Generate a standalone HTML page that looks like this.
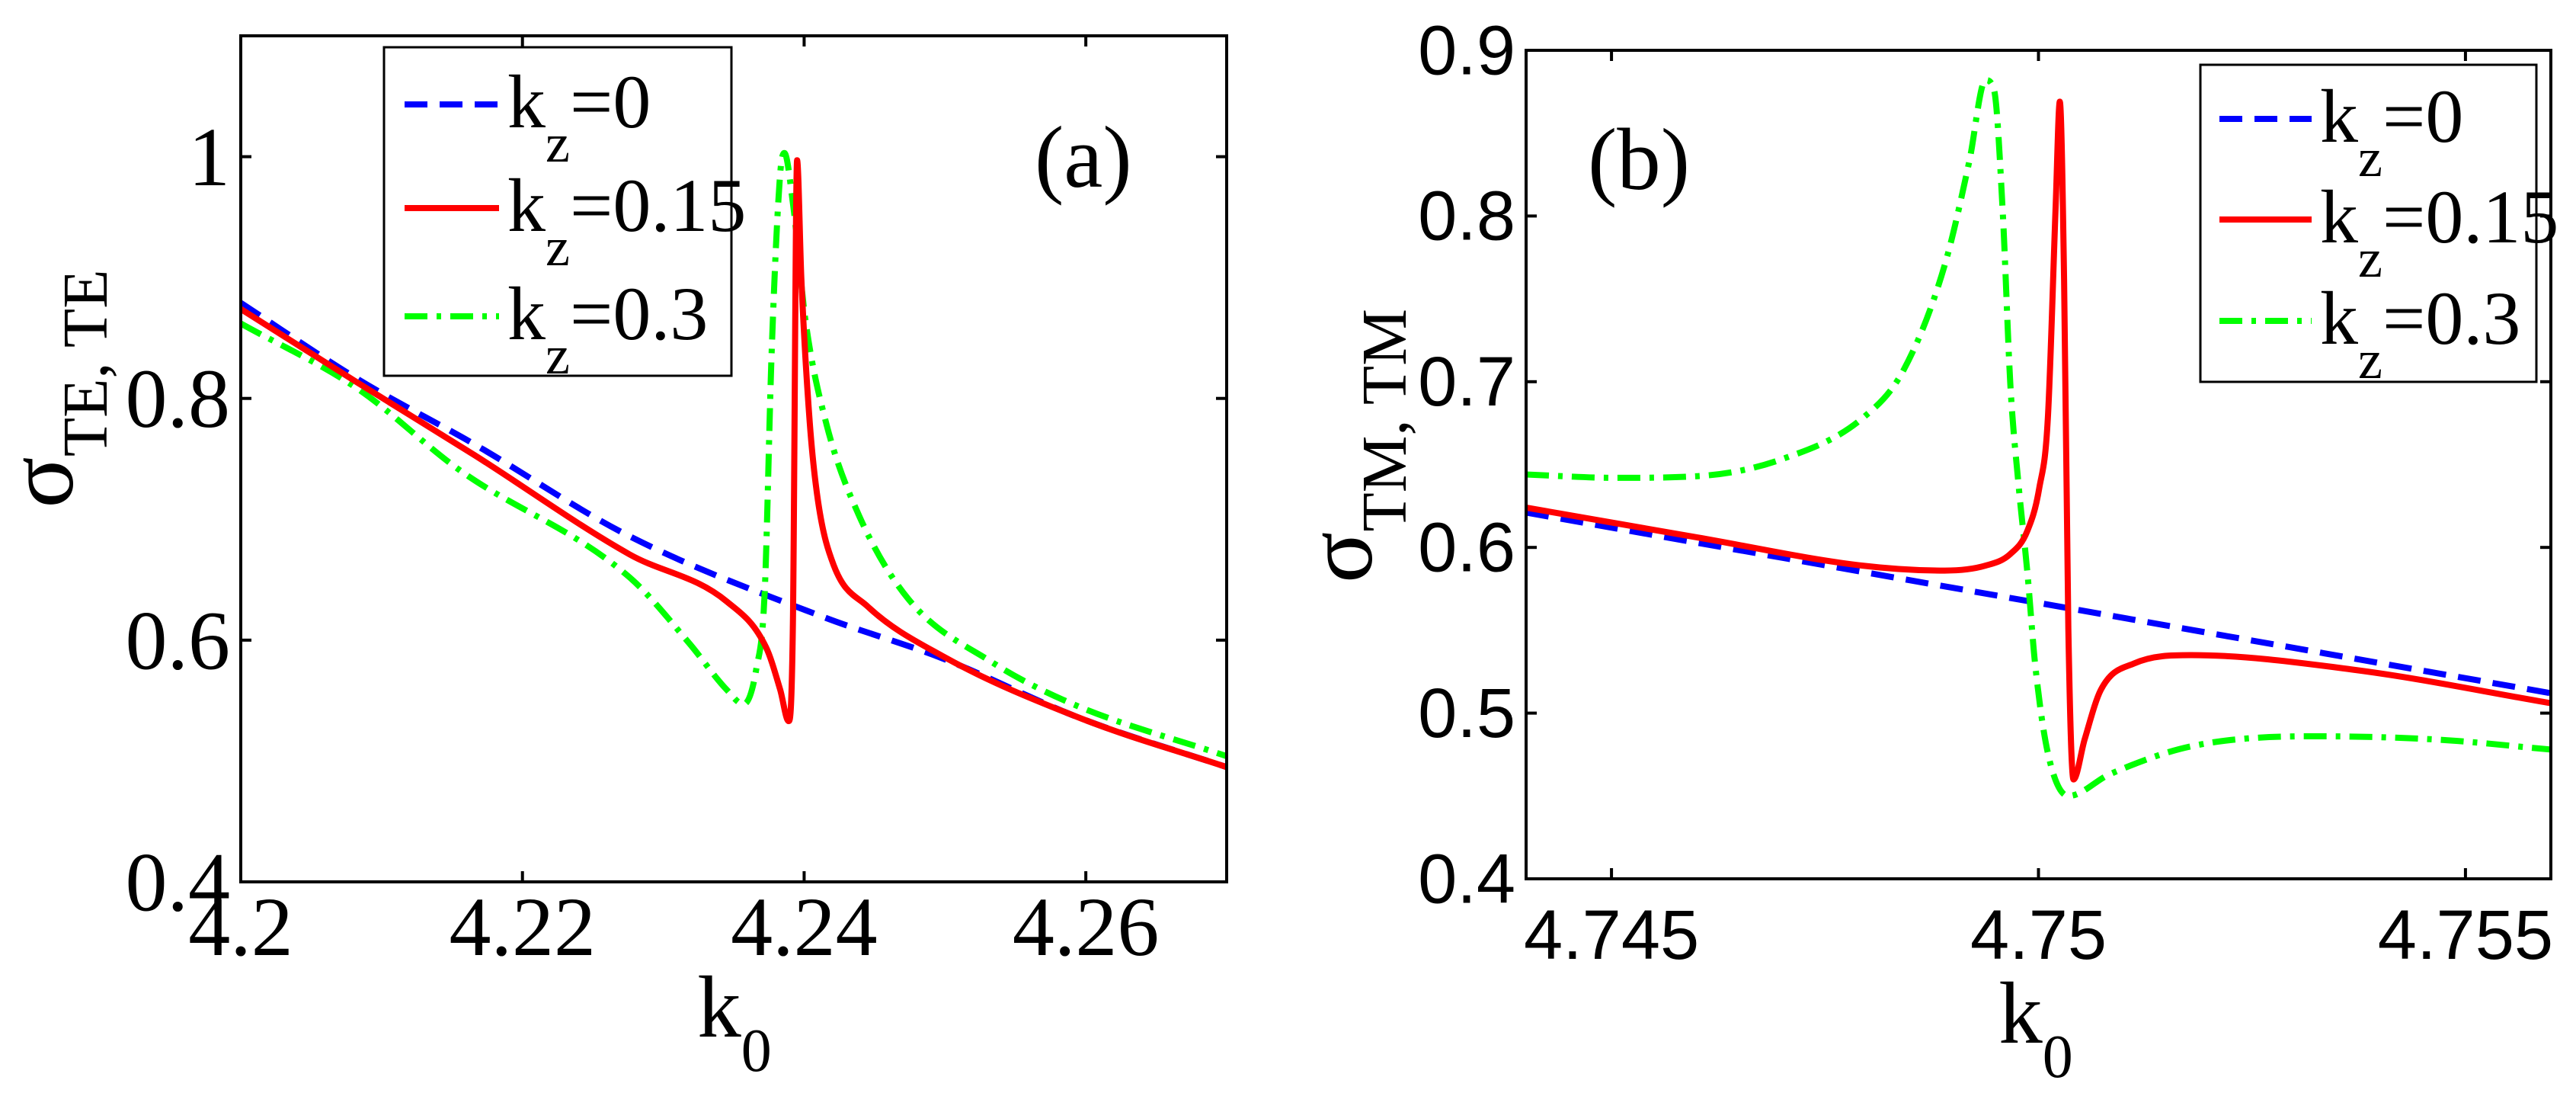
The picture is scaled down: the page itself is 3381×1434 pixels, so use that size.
<!DOCTYPE html>
<html><head><meta charset="utf-8"><style>
body{margin:0;background:#fff}
svg{display:block}
</style></head><body>
<svg id="fig" width="3381" height="1434" viewBox="0 0 3381 1434" xmlns="http://www.w3.org/2000/svg">
<rect width="3381" height="1434" fill="#fff"/>
</svg>
<script>
// ---- panel (a) data ----
const aBlueK=[4.2,4.2083,4.2166,4.2276,4.2414,4.2498,4.2597,4.27];
const aBlueV=[0.879,0.816,0.762,0.686,0.619,0.585,0.535,0.495];
const aRedK=[4.2,4.2083,4.2166,4.2276,4.2345,4.2373,4.2383,4.2389,4.2392,4.2395,4.2398,4.2404,4.2410,4.2421,4.2445,4.2498,4.2597,4.27];
const aRedV=[0.874,0.813,0.753,0.671,0.632,0.594,0.559,0.533,0.61,0.997,0.9,0.78,0.714,0.662,0.628,0.587,0.535,0.495];
const aGreenK=[4.2,4.2083,4.2155,4.2276,4.2318,4.2345,4.2357,4.2366,4.2372,4.2377,4.2383,4.2386,4.2392,4.2401,4.2416,4.2439,4.2474,4.2533,4.2591,4.27];
const aGreenV=[0.862,0.808,0.741,0.652,0.598,0.559,0.547,0.576,0.64,0.84,0.986,1.003,0.962,0.864,0.778,0.703,0.634,0.582,0.547,0.504];
const aXTicks=[4.2,4.22,4.24,4.26];
const aXLabels=["4.2","4.22","4.24","4.26"];
const aYTicks=[0.4,0.6,0.8,1.0];
const aYLabels=["0.4","0.6","0.8","1"];
// ---- panel (b) data ----
const bBlueK=[4.744,4.756];
const bBlueV=[0.621,0.512];
const bRedK=[4.744,4.74601,4.74794,4.7489,4.74938,4.74967,4.74987,4.75001,4.75011,4.7502,4.75025,4.7503,4.75035,4.75041,4.75054,4.75073,4.75112,4.75179,4.75372,4.756];
const bRedV=[0.624,0.606,0.589,0.586,0.589,0.596,0.610,0.636,0.678,0.804,0.869,0.762,0.551,0.460,0.484,0.514,0.530,0.535,0.526,0.506];
const bGreenK=[4.744,4.74505,4.74601,4.74698,4.74794,4.74842,4.7489,4.74919,4.74938,4.74948,4.74958,4.74967,4.74977,4.74987,4.74996,4.75011,4.75035,4.75083,4.75179,4.75324,4.75468,4.756];
const bGreenV=[0.644,0.642,0.643,0.653,0.678,0.707,0.770,0.833,0.882,0.876,0.804,0.699,0.636,0.585,0.530,0.476,0.450,0.463,0.480,0.486,0.484,0.478];
const bXTicks=[4.745,4.75,4.755];
const bXLabels=["4.745","4.75","4.755"];
const bYTicks=[0.4,0.5,0.6,0.7,0.8,0.9];
const bYLabels=["0.4","0.5","0.6","0.7","0.8","0.9"];

const SERIF='"Liberation Serif", serif';
const SANS='"Liberation Sans", sans-serif';
const NS="http://www.w3.org/2000/svg";
const svg=document.getElementById('fig');
function mk(tag,attrs,parent){const e=document.createElementNS(NS,tag);for(const k in attrs)e.setAttribute(k,attrs[k]);(parent||svg).appendChild(e);return e;}

// monotone cubic path (Fritsch-Carlson) through screen points
function monoPath(X,Y){
  const n=X.length;
  if(n<3){return 'M'+X.map((x,i)=>x.toFixed(1)+','+Y[i].toFixed(1)).join(' L');}
  const d=[],m=[];
  for(let i=0;i<n-1;i++)d.push((Y[i+1]-Y[i])/(X[i+1]-X[i]));
  m[0]=d[0];m[n-1]=d[n-2];
  for(let i=1;i<n-1;i++){m[i]=(d[i-1]*d[i]<=0)?0:(d[i-1]+d[i])/2;}
  for(let i=0;i<n-1;i++){
    if(d[i]===0){m[i]=0;m[i+1]=0;continue;}
    const a=m[i]/d[i],b=m[i+1]/d[i],s=a*a+b*b;
    if(s>9){const t=3/Math.sqrt(s);m[i]=t*a*d[i];m[i+1]=t*b*d[i];}
  }
  let p='M'+X[0].toFixed(1)+','+Y[0].toFixed(1);
  for(let i=0;i<n-1;i++){
    const h=(X[i+1]-X[i])/3;
    p+=' C'+(X[i]+h).toFixed(1)+','+(Y[i]+m[i]*h).toFixed(1)+' '+(X[i+1]-h).toFixed(1)+','+(Y[i+1]-m[i+1]*h).toFixed(1)+' '+X[i+1].toFixed(1)+','+Y[i+1].toFixed(1);
  }
  return p;
}

function panel(p){
  const g=mk('g',{});
  
  
  const sx=v=>p.L+(v-p.x0)/(p.x1-p.x0)*(p.R-p.L);
  const sy=v=>p.B-(v-p.y0)/(p.y1-p.y0)*(p.B-p.T);
  const series=[
    {k:p.blueK,v:p.blueV,c:'#0000ff',d:'30 16',n:'kz0'},
    {k:p.greenK,v:p.greenV,c:'#00ff00',d:'30 12 6 12',n:'kz03'},
    {k:p.redK,v:p.redV,c:'#ff0000',d:'',n:'kz015'}];
  const clip=mk('clipPath',{id:'clip'+p.id},g);
  mk('rect',{x:p.L,y:p.T,width:p.R-p.L,height:p.B-p.T},clip);
  for(const s of series){
    const X=s.k.map(sx),Y=s.v.map(sy);
    const pl=mk('path',{d:monoPath(X,Y),fill:'none',stroke:s.c,'stroke-width':8,'stroke-dasharray':s.d,'stroke-linejoin':'round','clip-path':'url(#clip'+p.id+')'},g);
    
    
  }
  const box=mk('rect',{x:p.L,y:p.T,width:p.R-p.L,height:p.B-p.T,fill:'none',stroke:'#000','stroke-width':4},g);
  
  
  const ff=p.tickFont;
  p.xt.forEach((t,i)=>{
    const x=sx(t);
    mk('line',{x1:x,y1:p.B,x2:x,y2:p.B-14,stroke:'#000','stroke-width':4},g);
    mk('line',{x1:x,y1:p.T,x2:x,y2:p.T+14,stroke:'#000','stroke-width':4},g);
    const tx=mk('text',{x:x,y:p.xLabY,'text-anchor':'middle','font-size':p.fs,'font-family':ff},g);
    tx.textContent=p.xl[i];
    
    
  });
  p.yt.forEach((t,i)=>{
    const y=sy(t);
    mk('line',{x1:p.L,y1:y,x2:p.L+14,y2:y,stroke:'#000','stroke-width':4},g);
    mk('line',{x1:p.R,y1:y,x2:p.R-14,y2:y,stroke:'#000','stroke-width':4},g);
    const ty=mk('text',{x:p.L-14,y:y+p.fs*0.34,'text-anchor':'end','font-size':p.fs,'font-family':ff},g);
    ty.textContent=p.yl[i];
    
    
  });
  const lg=mk('g',{},g);
  
  
  mk('rect',{x:p.lg.x,y:p.lg.y,width:p.lg.w,height:p.lg.h,fill:'#fff',stroke:'#000','stroke-width':3},lg);
  const labs=['0','0.15','0.3'];
  const order=[series[0],series[2],series[1]];
  order.forEach((s,i)=>{
    const y=p.lg.rows[i];
    mk('line',{x1:p.lg.l1,y1:y,x2:p.lg.l2,y2:y,stroke:s.c,'stroke-width':8,'stroke-dasharray':s.d},lg);
    const t=mk('text',{x:p.lg.tx,y:y+30,'font-size':100,'font-family':SERIF},lg);
    t.innerHTML='k<tspan dy="45" font-size="72">z</tspan><tspan dy="-45">='+labs[i]+'</tspan>';
    
    
  });
  const tg=mk('text',{x:p.tag.x,y:p.tag.y,'font-size':115,'font-family':SERIF},g);
  tg.textContent=p.tag.t;
  
  
  const xt=mk('text',{x:p.xT.x,y:p.xT.y,'text-anchor':'middle','font-size':115,'font-family':SERIF},g);
  xt.innerHTML='k<tspan dy="45" font-size="80">0</tspan>';
  
  
  const yt=mk('text',{x:0,y:0,'text-anchor':'middle','font-size':125,'font-family':SERIF,transform:'translate('+p.yT.x+','+p.yT.y+') rotate(-90)'},g);
  yt.innerHTML='σ<tspan dy="45" font-size="84">'+p.yT.sub+'</tspan>';
  
  
}

panel({id:'a',L:316,R:1610,T:47,B:1157,x0:4.2,x1:4.27,y0:0.4,y1:1.1,
  blueK:aBlueK,blueV:aBlueV,redK:aRedK,redV:aRedV,greenK:aGreenK,greenV:aGreenV,
  xt:aXTicks,xl:aXLabels,yt:aYTicks,yl:aYLabels,fs:110,tickFont:SERIF,xLabY:1253,
  lg:{x:504,y:62,w:456,h:431,rows:[137,273,415],l1:531,l2:655,tx:666},
  tag:{x:1358,y:245,t:'(a)'},xT:{x:964,y:1360},yT:{x:95,y:510,sub:'TE, TE'}});
panel({id:'b',L:2003,R:3348,T:66,B:1153,x0:4.744,x1:4.756,y0:0.4,y1:0.9,
  blueK:bBlueK,blueV:bBlueV,redK:bRedK,redV:bRedV,greenK:bGreenK,greenV:bGreenV,
  xt:bXTicks,xl:bXLabels,yt:bYTicks,yl:bYLabels,fs:92,tickFont:SANS,xLabY:1258,
  lg:{x:2888,y:85,w:441,h:416,rows:[156,288,421],l1:2913,l2:3034,tx:3045},
  tag:{x:2084,y:248,t:'(b)'},xT:{x:2672,y:1368},yT:{x:1800,y:585,sub:'TM, TM'}});
</script>
</body></html>
